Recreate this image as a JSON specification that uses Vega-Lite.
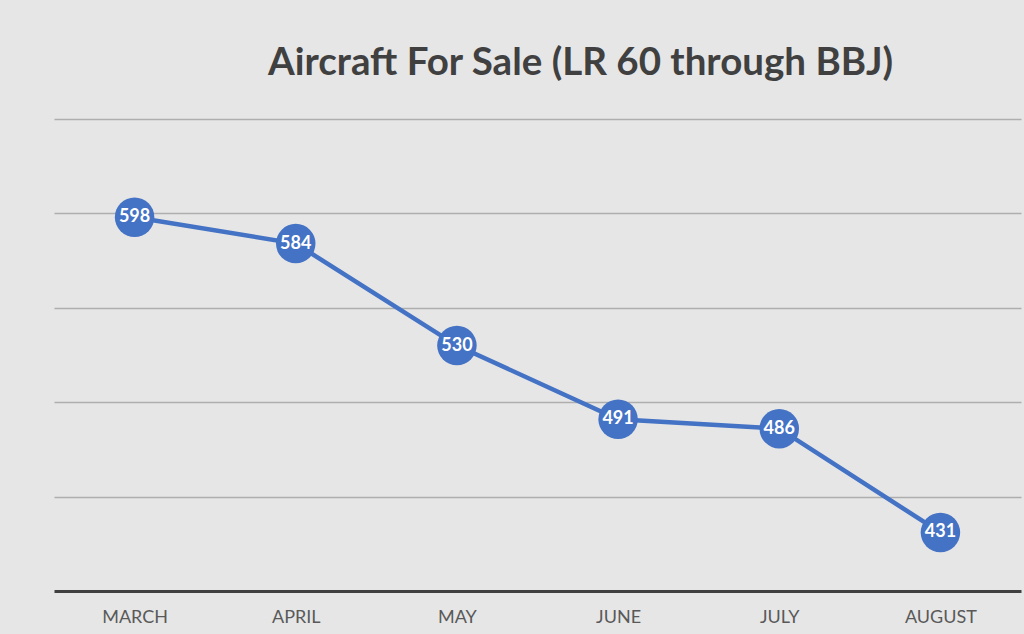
{
  "$schema": "https://vega.github.io/schema/vega-lite/v6.json",
  "autosize": {"type": "fit", "contains": "padding"},
  "width": 1024,
  "height": 634,
  "padding": {"left": 54, "right": 3, "top": 43, "bottom": 8},
  "background": "#e6e6e6",
  "title": {
    "text": "Aircraft For Sale (LR 60 through BBJ)",
    "font": "Lato",
    "fontSize": 38.5,
    "fontWeight": "bold",
    "color": "#404040",
    "anchor": "middle",
    "dx": 43,
    "offset": 36
  },
  "data": {
    "values": [
      {"month": "MARCH", "count": 598},
      {"month": "APRIL", "count": 584},
      {"month": "MAY", "count": 530},
      {"month": "JUNE", "count": 491},
      {"month": "JULY", "count": 486},
      {"month": "AUGUST", "count": 431}
    ]
  },
  "encoding": {
    "x": {
      "field": "month",
      "type": "ordinal",
      "sort": null,
      "scale": {"type": "point", "padding": 0.5},
      "axis": {
        "title": null,
        "labelAngle": 0,
        "labelFont": "Lato",
        "labelFontSize": 18,
        "labelColor": "#595959",
        "labelPadding": 17,
        "ticks": false,
        "domainColor": "#404040",
        "domainWidth": 3,
        "grid": false
      }
    },
    "y": {
      "field": "count",
      "type": "quantitative",
      "scale": {"domain": [400, 650], "nice": false, "zero": false},
      "axis": {
        "title": null,
        "labels": false,
        "ticks": false,
        "domain": false,
        "grid": true,
        "values": [450, 500, 550, 600, 650],
        "gridColor": "#aeaeae",
        "gridWidth": 1.5
      }
    }
  },
  "layer": [
    {"mark": {"type": "line", "color": "#4472C4", "strokeWidth": 4.5}},
    {"mark": {"type": "point", "filled": true, "opacity": 1, "color": "#4472C4", "size": 1560, "shape": "circle"}},
    {
      "mark": {"type": "text", "color": "white", "font": "Lato", "fontSize": 18, "fontWeight": "bold", "baseline": "middle", "align": "center"},
      "encoding": {"text": {"field": "count", "type": "quantitative"}}
    }
  ],
  "config": {"view": {"stroke": null}}
}
